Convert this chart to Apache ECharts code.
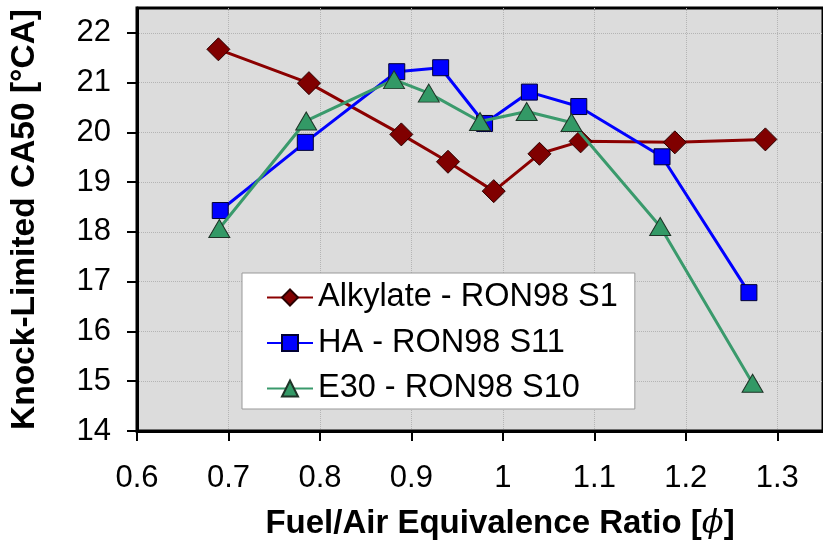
<!DOCTYPE html>
<html>
<head>
<meta charset="utf-8">
<script src="https://cdn.jsdelivr.net/npm/echarts@6/dist/echarts.min.js"></script>
<style>
    html, body { margin: 0; padding: 0; background: #fff; }
    #chart { width: 823px; height: 545px; }
</style>
</head>
<body>
<div id="chart"></div>
<script>
    /* ---------- data ---------- */
    var seriesNames = ['Alkylate - RON98 S1', 'HA - RON98 S11', 'E30 - RON98 S10'];

    var alkylatePhi = [0.689, 0.788, 0.889, 0.940, 0.990, 1.040, 1.085, 1.188, 1.287];
    var alkylateCa50 = [21.67, 20.99, 19.96, 19.41, 18.82, 19.57, 19.82, 19.80, 19.86];

    var haPhi = [0.691, 0.784, 0.884, 0.932, 0.980, 1.029, 1.083, 1.174, 1.269];
    var haCa50 = [18.43, 19.80, 21.22, 21.30, 20.18, 20.81, 20.52, 19.51, 16.78];

    var e30Phi = [0.690, 0.785, 0.881, 0.919, 0.975, 1.026, 1.075, 1.172, 1.273];
    var e30Ca50 = [18.07, 20.23, 21.06, 20.79, 20.22, 20.42, 20.20, 18.11, 14.96];

    var yTicks = [14, 15, 16, 17, 18, 19, 20, 21, 22];

    function pairs(xs, ys) {
        return xs.map(function (x, i) { return [x, ys[i]]; });
    }

    var font = "'Liberation Sans', Arial, sans-serif";

    var chart = echarts.init(document.getElementById('chart'));

    var option = {
        animation: false,
        backgroundColor: '#fff',
        grid: {
            left: 137,
            right: -14,
            top: 8,
            bottom: 114,
            show: true,
            backgroundColor: '#dcdcdc',
            borderColor: '#000',
            borderWidth: 3
        },
        legend: {
            orient: 'vertical',
            left: 242,
            top: 273,
            backgroundColor: '#fff',
            borderColor: '#999',
            borderWidth: 1,
            borderRadius: 0,
            padding: [8, 17, 4, 24],
            itemWidth: 46,
            itemHeight: 20,
            itemGap: 12.5,
            textStyle: { fontFamily: font, fontSize: 32.5, color: '#000', lineHeight: 32.5 },
            data: seriesNames
        },
        xAxis: {
            type: 'value',
            min: 0.6,
            max: 1.35,
            interval: 0.1,
            name: 'Fuel/Air Equivalence Ratio [{p|ϕ}]',
            nameLocation: 'middle',
            nameGap: 76,
            nameTextStyle: {
                fontFamily: font, fontSize: 33, fontWeight: 'bold', color: '#000',
                padding: [0, 0, 0, 40],
                rich: { p: { fontFamily: "'DejaVu Serif', serif", fontStyle: 'italic', fontWeight: 'normal', fontSize: 32, color: '#000' } }
            },
            axisLine: { onZero: false, lineStyle: { color: '#000', width: 3 } },
            axisTick: { inside: false, length: 10, lineStyle: { color: '#000', width: 2 } },
            axisLabel: {
                margin: 32,
                showMaxLabel: false,
                fontFamily: font, fontSize: 31, color: '#000',
                formatter: function (v) { return String(+v.toFixed(1)); }
            },
            splitLine: { show: true, lineStyle: { color: '#b4b4b4', type: 'dotted', width: 1 } }
        },
        yAxis: {
            type: 'value',
            min: 14,
            max: 22.5,
            interval: 1,
            name: 'Knock-Limited CA50 [°CA]',
            nameLocation: 'middle',
            nameGap: 95,
            nameTextStyle: {
                fontFamily: font, fontSize: 33.5, fontWeight: 'bold', color: '#000'
            },
            axisLine: { onZero: false, lineStyle: { color: '#000', width: 3 } },
            axisTick: { inside: false, length: 10, customValues: yTicks, lineStyle: { color: '#000', width: 2 } },
            axisLabel: {
                margin: 26,
                customValues: yTicks,
                fontFamily: font, fontSize: 31, color: '#000'
            },
            splitLine: { show: true, lineStyle: { color: '#b4b4b4', type: 'dotted', width: 1 } }
        },
        series: [
            {
                name: seriesNames[0],
                type: 'line',
                data: pairs(alkylatePhi, alkylateCa50),
                symbol: 'diamond',
                symbolSize: 23,
                lineStyle: { color: '#8b0000', width: 3 },
                itemStyle: { color: '#800000', borderColor: '#2a0000', borderWidth: 1 },
                z: 3
            },
            {
                name: seriesNames[1],
                type: 'line',
                data: pairs(haPhi, haCa50),
                symbol: 'rect',
                symbolSize: 16,
                lineStyle: { color: '#0000ff', width: 3 },
                itemStyle: { color: '#0000ff', borderColor: '#000033', borderWidth: 1 },
                z: 4
            },
            {
                name: seriesNames[2],
                type: 'line',
                data: pairs(e30Phi, e30Ca50),
                symbol: 'triangle',
                symbolSize: [21, 18],
                lineStyle: { color: '#3a9a6c', width: 3 },
                itemStyle: { color: '#339966', borderColor: '#1f3327', borderWidth: 1 },
                z: 5
            }
        ]
    };

    chart.setOption(option);
</script>
</body>
</html>
